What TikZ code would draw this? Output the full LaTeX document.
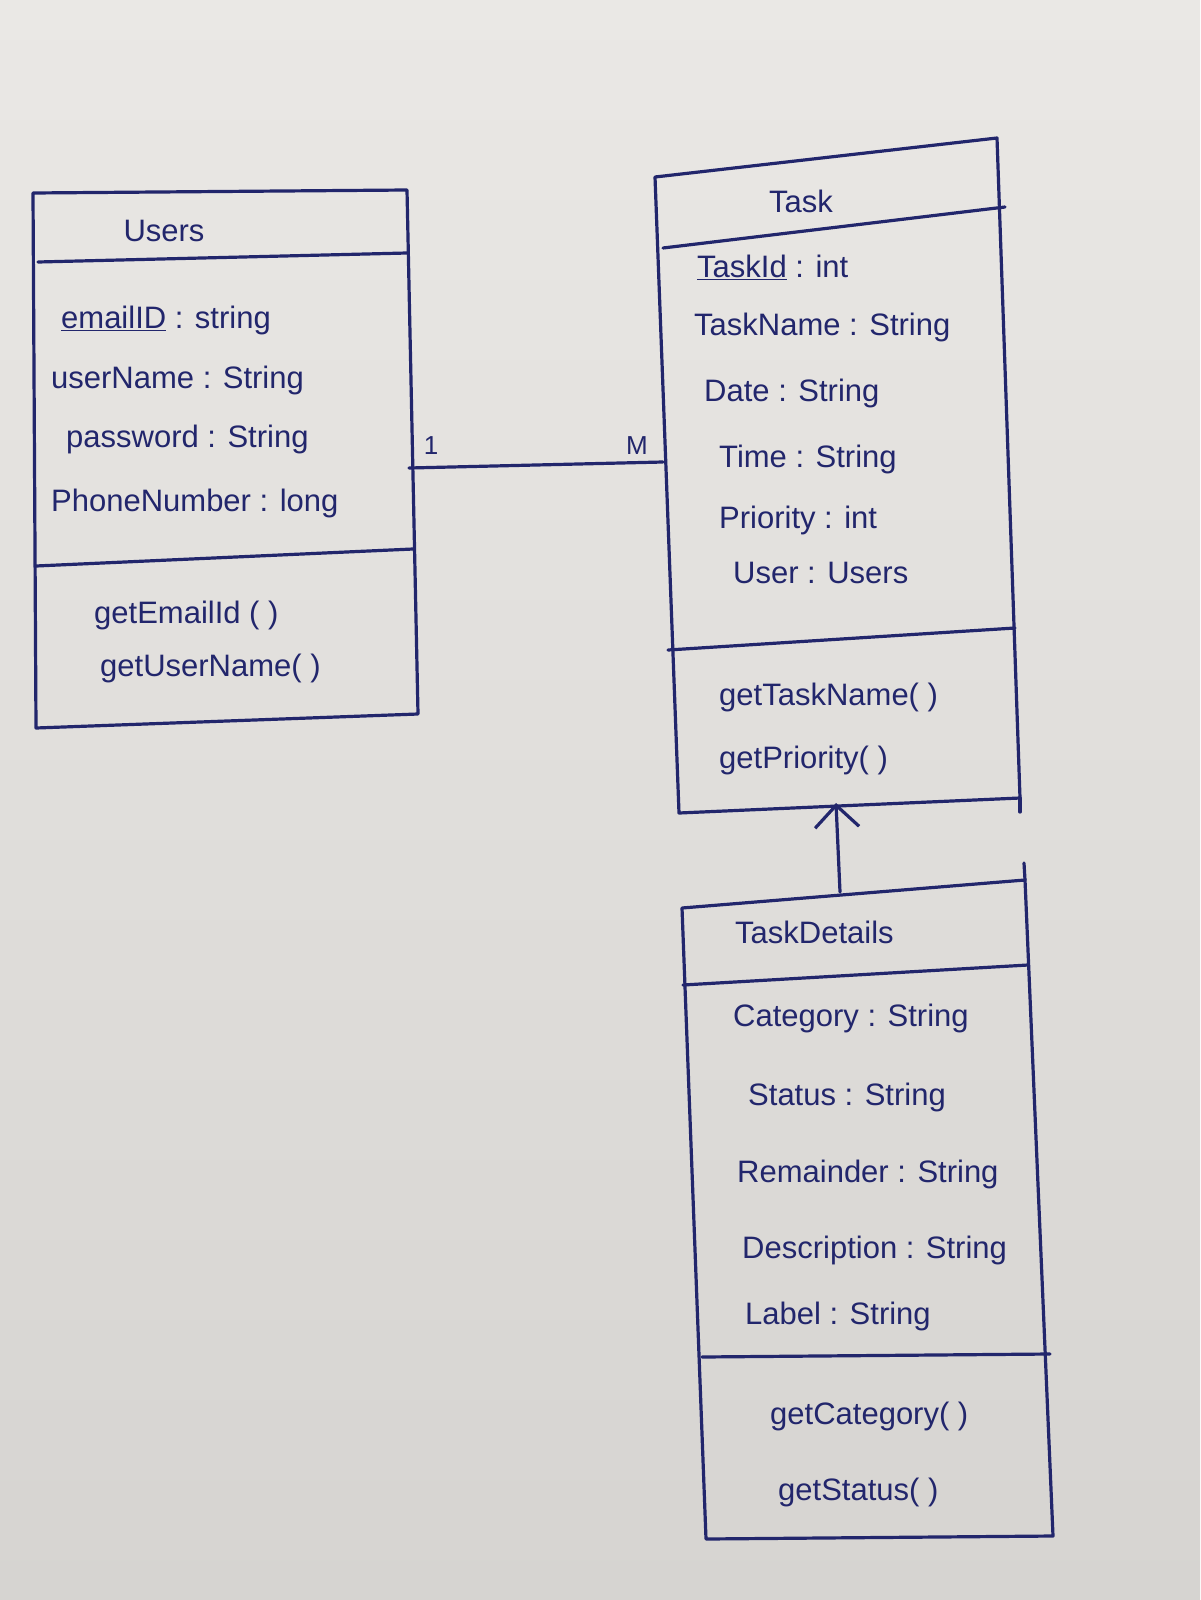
\documentclass[tikz,border=0pt]{standalone}
\usepackage{fontspec}
\setmainfont{Liberation Sans}
\usetikzlibrary{arrows.meta}
\definecolor{paperA}{RGB}{234,232,229}
\definecolor{paperB}{RGB}{214,212,209}
\definecolor{ink}{RGB}{34,38,108}
\begin{document}
\begin{tikzpicture}[x=1pt,y=-1pt,
  edge/.style={draw=ink,line width=3.2pt,line cap=round,line join=round},
  txt/.style={anchor=west,text=ink,font=\fontsize{31}{34}\selectfont,inner sep=0pt},
  ttl/.style={anchor=center,text=ink,font=\fontsize{31}{34}\selectfont,inner sep=0pt},
  mult/.style={anchor=center,text=ink,font=\fontsize{26}{28}\selectfont,inner sep=0pt}]
% paper
\shade[top color=paperA,bottom color=paperB] (0,0) rectangle (1200,1600);
\useasboundingbox (0,0) rectangle (1200,1600);

% ---------------- Users ----------------
\coordinate (uTL) at (33,193);
\coordinate (uTR) at (407,190);
\coordinate (uBL) at (36,728);
\coordinate (uBR) at (418,714);
\draw[edge] (uTL) -- (uTR) -- (uBR) -- (uBL) -- cycle;
\draw[edge] (38,262) -- (407,253);
\draw[edge] (36,566) -- (413,549);

\node[ttl] (usersT) at (164,231) {Users};
\node[txt] (u1) at (61,320) {\underline{emailID} : string};
\node[txt] (u2) at (51,380) {userName : String};
\node[txt] (u3) at (66,439) {password : String};
\node[txt] (u4) at (51,503) {PhoneNumber : long};
\node[txt] (u5) at (94,615) {getEmailId ( )};
\node[txt] (u6) at (100,668) {getUserName( )};

% ---------------- Task ----------------
\coordinate (tTL) at (655,177);
\coordinate (tTR) at (997,138);
\coordinate (tBL) at (679,813);
\coordinate (tBR) at (1020,798);
\draw[edge] (tTL) -- (tTR) -- (tBR) -- (tBL) -- cycle;
\draw[edge] (tBR) -- (1020,812);
\draw[edge] (663,248) -- (1005,207);
\draw[edge] (668,650) -- (1015,628);

\node[ttl] (taskT) at (801,201) {Task};
\node[txt] (t1) at (697,267) {\underline{TaskId} : int};
\node[txt] (t2) at (694,327) {TaskName : String};
\node[txt] (t3) at (704,393) {Date : String};
\node[txt] (t4) at (719,459) {Time : String};
\node[txt] (t5) at (719,520) {Priority : int};
\node[txt] (t6) at (733,573) {User : Users};
\node[txt] (t7) at (719,697) {getTaskName( )};
\node[txt] (t8) at (719,760) {getPriority( )};

% ---------------- TaskDetails ----------------
\coordinate (dTL) at (682,908);
\coordinate (dTR) at (1025,880);
\coordinate (dBL) at (706,1539);
\coordinate (dBR) at (1053,1536);
\draw[edge] (dTL) -- (dTR) -- (dBR) -- (dBL) -- cycle;
\draw[edge] (1024,863) -- (dTR);
\draw[edge] (683,985) -- (1028,965);
\draw[edge] (702,1357) -- (1050,1354);

\node[txt] (detT) at (735,932) {TaskDetails};
\node[txt] (d1) at (733,1018) {Category : String};
\node[txt] (d2) at (748,1097) {Status : String};
\node[txt] (d3) at (737,1174) {Remainder : String};
\node[txt] (d4) at (742,1250) {Description : String};
\node[txt] (d5) at (745,1316) {Label : String};
\node[txt] (d6) at (770,1416) {getCategory( )};
\node[txt] (d7) at (778,1492) {getStatus( )};

% ---------------- connectors ----------------
\coordinate (assocA) at (409,468);
\coordinate (assocB) at (663,462);
\draw[edge] (assocA) -- (assocB);
\node[mult] (one) at (431,446) {1};
\node[mult] (many) at (637,446) {M};

\coordinate (genA) at (840,892);
\coordinate (genB) at (836,803);
\draw[edge,-{Straight Barb[length=22pt,width=44pt,line width=3.2pt]}] (genA) -- (genB);
\end{tikzpicture}
\end{document}
